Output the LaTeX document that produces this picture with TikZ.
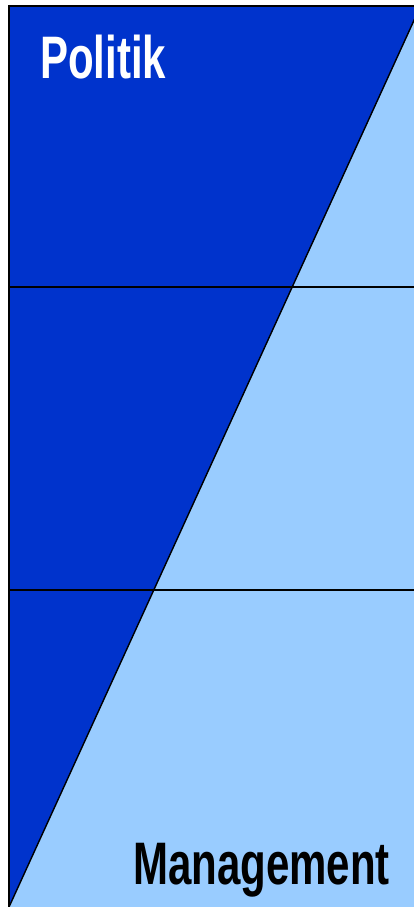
\documentclass[tikz,border=0pt]{standalone}
\usepackage{fontspec}
\setmainfont{Liberation Sans}
\definecolor{darkblue}{RGB}{0,51,204}
\definecolor{lightblue}{RGB}{153,204,255}
\begin{document}
\begin{tikzpicture}[x=1pt,y=-1pt,
  biglabel/.style={font=\bfseries\fontsize{60}{60}\selectfont, inner sep=0pt, xscale=0.7},
  rule/.style={draw=black, line width=2pt}]
\useasboundingbox (0,0) rectangle (414,907);
\clip (0,0) rectangle (414,907);
\fill[white] (0,0) rectangle (414,907);
\fill[lightblue] (9,6) rectangle (425,912);
\fill[darkblue] (9,6) -- (421,6) -- (9,907) -- cycle;
\draw[black, line width=1.4pt] (421,5) -- (9,907);
\draw[rule] (9,287) -- (420,287);
\draw[rule] (9,590) -- (420,590);
\draw[rule] (9,6) -- (425,6);
\draw[rule] (9,5) -- (9,912);
\node[biglabel, text=white, anchor=base west] (politik) at (40,78) {Politik};
\node[biglabel, text=black, anchor=base east] (management) at (390,884) {Management};
\end{tikzpicture}
\end{document}
